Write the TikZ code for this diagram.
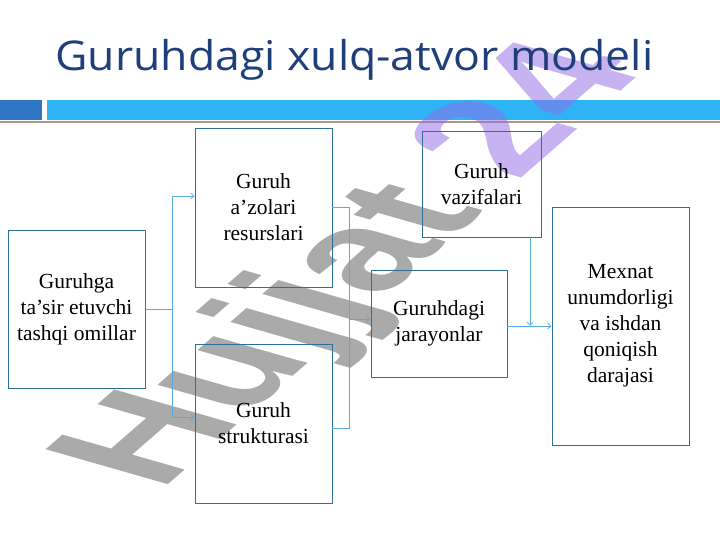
\documentclass[tikz,border=0pt]{standalone}
\usepackage{fontspec}
\setmainfont{Liberation Serif}
\newfontfamily\titlefont{Open Sans}
\newfontfamily\wmfont{Liberation Sans}
\usetikzlibrary{arrows.meta,calc}
\definecolor{boxc}{HTML}{2F6F96}
\definecolor{linec}{HTML}{5AAAE0}
\definecolor{titlec}{HTML}{1F3F7A}
\definecolor{bardark}{HTML}{2F77C4}
\definecolor{barlight}{HTML}{2EB4F6}
\definecolor{barline}{HTML}{A89A8A}
\definecolor{wmgray}{HTML}{575757}
\definecolor{wmviolet}{HTML}{9169E5}
\begin{document}
\begin{tikzpicture}[x=1pt,y=-1pt,
  box/.style={draw=boxc, line width=0.9pt, inner sep=0pt, align=center,
    font=\fontsize{21.5}{26}\selectfont},
  conn/.style={draw=linec, line width=0.7pt},
  arr/.style={conn, -{Straight Barb[length=3.5pt,width=6pt]}},
  wm/.style={font=\wmfont\bfseries\fontsize{155}{155}\selectfont, inner sep=0pt,
    text opacity=0.5}]
\useasboundingbox (0,0) rectangle (720,540);
\fill[white] (0,0) rectangle (720,540);
% header bar
\fill[bardark] (0,100) rectangle (42,120);
\fill[barlight] (47,100) rectangle (720,120);
\draw[barline, line width=1.5pt] (0,122) -- (720,122);
% watermark
\node[wm, rotate=41, xslant=-0.65, anchor=base west] (wmark) at (160,492)
  {\color{wmgray}Hujjat \color{wmviolet}24};
% title
\node[font=\titlefont\fontsize{41}{49}\selectfont, text=titlec, anchor=base, inner sep=0pt, xscale=1.086]
  (title) at (354.5,71) {Guruhdagi xulq-atvor modeli};
% boxes
\node[box, minimum width=137pt, minimum height=158pt] (ext) at (76.5,309)
  {Guruhga\\ta’sir etuvchi\\tashqi omillar};
\node[box, minimum width=137pt, minimum height=159pt] (res) at (263.5,207.5)
  {Guruh\\a’zolari\\resurslari};
\node[box, minimum width=119pt, minimum height=106pt] (vaz) at (481.5,184)
  {Guruh\\vazifalari};
\node[box, minimum width=136pt, minimum height=107pt] (jar) at (439,323.5)
  {Guruhdagi\\jarayonlar};
\node[box, minimum width=137pt, minimum height=238pt] (mex) at (620.5,326)
  {Mexnat\\unumdorligi\\va ishdan\\qoniqish\\darajasi};
\node[box, minimum width=137pt, minimum height=159pt] (str) at (263.5,423.5)
  {Guruh\\strukturasi};
% connectors
\coordinate (j1) at (172,309);
\draw[conn] (ext.east) -- (j1);
\draw[arr] (j1) |- ($(res.west)+(0,-11.5)$);
\draw[arr] (j1) |- ($(str.west)+(0,-6.5)$);
\coordinate (j2) at (349,319);
\draw[conn] (res.east) -| (j2);
\draw[conn] ($(str.east)+(0,4.5)$) -| (j2);
\draw[arr] (j2) -- ($(jar.west)+(0,-4.5)$);
\draw[arr] ($(jar.east)+(0,2.5)$) -- (mex.west);
\coordinate (j3) at (530,326);
\draw[arr] ($(vaz.south)+(48.5,0)$) -- (j3);
\end{tikzpicture}
\end{document}
